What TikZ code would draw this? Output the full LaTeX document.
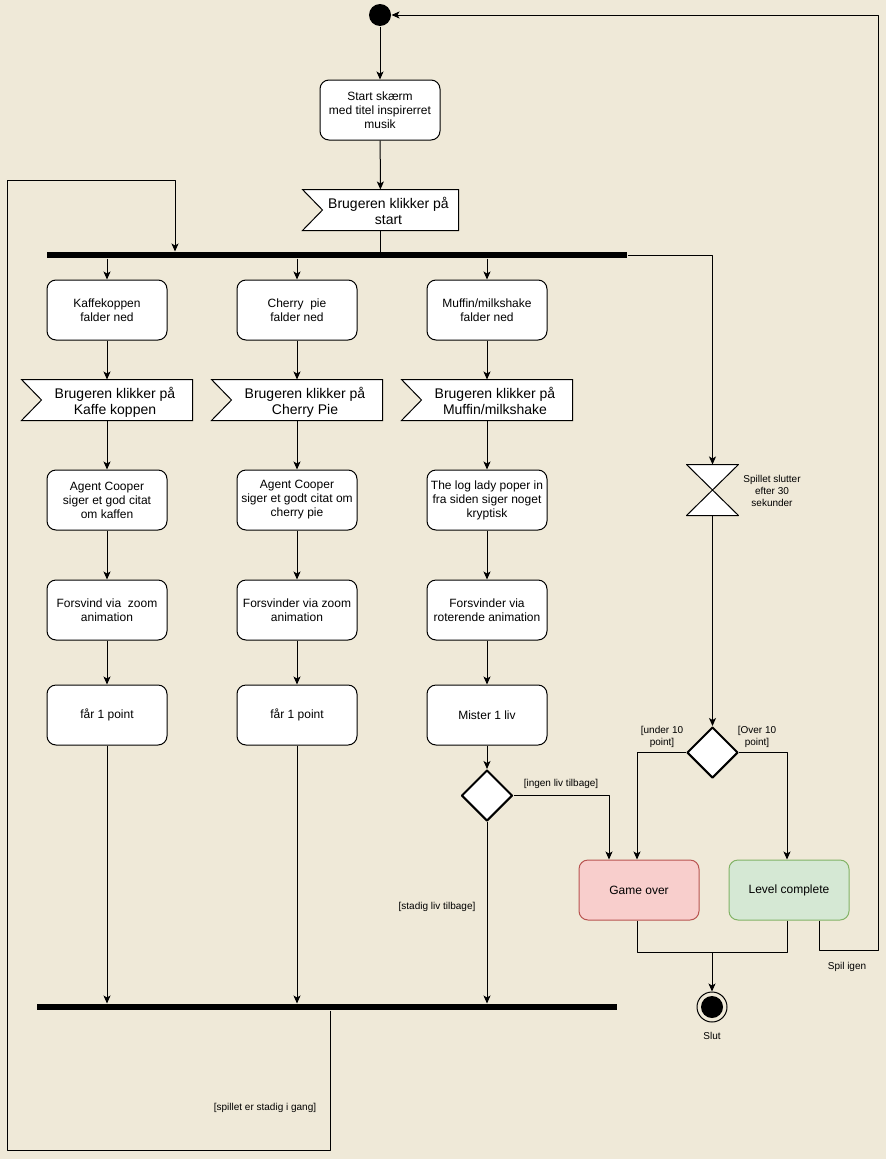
\documentclass[tikz,border=0pt]{standalone}
\usepackage{fontspec}
\setmainfont{Liberation Sans}
\usetikzlibrary{arrows.meta,shapes.geometric,backgrounds}
\definecolor{bgc}{RGB}{239,233,216}
\definecolor{gofill}{HTML}{F8CECC}
\definecolor{godraw}{HTML}{B85450}
\definecolor{lcfill}{HTML}{D5E8D4}
\definecolor{lcdraw}{HTML}{82B366}
\newcommand{\sigtxt}[1]{\hspace*{16pt}\raisebox{-3pt}[\height][\depth]{\begin{tabular}{@{}c@{}}#1\end{tabular}}}
\begin{document}
\begin{tikzpicture}[x=1pt,y=-1pt,line width=1pt,line join=round,
  >={Stealth[length=8pt,width=7pt,inset=2pt]},
  act/.style={draw,fill=white,rounded corners=9pt,minimum width=120pt,minimum height=60pt,align=center,inner sep=1pt,font=\fontsize{12}{14}\selectfont},
  sig/.style={minimum width=170pt,minimum height=40pt,inner sep=0pt,font=\fontsize{14}{16}\selectfont},
  sigshape/.style={draw=black,fill=white,line width=1pt,line join=miter},
  bar/.style={fill=black,draw=none,inner sep=0pt,minimum width=580pt,minimum height=6pt},
  dia/.style={diamond,draw,fill=white,line width=2pt,inner sep=0pt,minimum width=51pt,minimum height=51pt},
  lbl/.style={align=center,inner sep=1pt,font=\fontsize{10}{12}\selectfont}]
\useasboundingbox (0,0) rectangle (886,1159);
\begin{scope}[on background layer]
\fill[bgc] (0,0) rectangle (886,1159);
\end{scope}

% nodes
\node[circle,fill=black,minimum size=22pt,inner sep=0pt] (init) at (380,15) {};
\node[act] (start) at (380,110) {Start skærm\\med titel inspirerret\\musik};
\node[sig,minimum width=155pt] (s0) at (380.5,210) {\sigtxt{Brugeren klikker på\\start}};
\node[bar] (bar1) at (337,255) {};

\node[act] (a1) at (107,310) {Kaffekoppen\\falder ned};
\node[act] (a2) at (297,310) {Cherry~ pie\\falder ned};
\node[act] (a3) at (487,310) {Muffin/milkshake\\falder ned};

\node[sig] (b1) at (107,400) {\sigtxt{Brugeren klikker på\\Kaffe koppen}};
\node[sig] (b2) at (297,400) {\sigtxt{Brugeren klikker på\\Cherry Pie}};
\node[sig] (b3) at (487,400) {\sigtxt{Brugeren klikker på\\Muffin/milkshake}};

\begin{scope}[on background layer]
\foreach \s in {s0,b1,b2,b3}{
  \draw[sigshape] (\s.north west) -- (\s.north east) -- (\s.south east) -- (\s.south west) -- ([xshift=20pt]\s.west) -- cycle;
}
\end{scope}

\node[act] (c1) at (107,500) {Agent Cooper\\siger et god citat\\om kaffen};
\node[act] (c2) at (297,500) {Agent Cooper\\siger et godt citat om\\cherry pie};
\node[act] (c3) at (487,500) {The log lady poper in\\fra siden siger noget\\kryptisk};

\node[act] (d1) at (107,610) {Forsvind via~ zoom\\animation};
\node[act] (d2) at (297,610) {Forsvinder via zoom\\animation};
\node[act] (d3) at (487,610) {Forsvinder via\\roterende animation};

\node[act] (e1) at (107,715) {får 1 point};
\node[act] (e2) at (297,715) {får 1 point};
\node[act] (e3) at (487,715) {Mister 1 liv};

\node[dia] (dec1) at (487,795.5) {};
\node[bar] (bar2) at (327,1007) {};

\node[minimum width=51pt,minimum height=50pt,inner sep=0pt] (hg) at (712.5,490) {};
\filldraw[fill=white] (hg.north west) -- (hg.north east) -- (hg.south west) -- (hg.south east) -- cycle;

\node[dia] (dec2) at (712.5,752.5) {};
\node[act,fill=gofill,draw=godraw] (go) at (639,890) {Game over};
\node[act,fill=lcfill,draw=lcdraw] (lc) at (789,890) {Level complete};

\node[circle,draw,minimum size=30pt,inner sep=0pt] (fin) at (712,1007) {};
\node[circle,fill=black,minimum size=22pt,inner sep=0pt] (finin) at (fin) {};

% labels
\node[lbl] (l1) at (561,784) {[ingen liv tilbage]};
\node[lbl] (l2) at (437,907) {[stadig liv tilbage]};
\node[lbl] (l3) at (772,491) {Spillet slutter\\efter 30\\sekunder};
\node[lbl] (l4) at (662,737) {[under 10\\point]};
\node[lbl] (l5) at (757,737) {[Over 10\\point]};
\node[lbl] (l6) at (847,967) {Spil igen};
\node[lbl] (l7) at (712,1036) {Slut};
\node[lbl] (l8) at (265,1108) {[spillet er stadig i gang]};

% coordinates
\coordinate (lpA) at (330,1150);
\coordinate (lpB) at (7,180);
\coordinate (lpC) at (175,180);
\coordinate (rb) at (712.5,255);
\coordinate (mg) at (712,952);
\coordinate (sp1) at (878,950);

% connectors
\draw[->] (init) -- (start);
\draw[->] (start) -- (s0);
\draw (s0.south) -- (s0.south |- bar1.north);
\foreach \c in {1,2,3}{
  \draw[->] (bar1.south -| a\c.north) -- (a\c.north);
  \draw[->] (a\c) -- (b\c);
  \draw[->] (b\c) -- (c\c);
  \draw[->] (c\c) -- (d\c);
  \draw[->] (d\c) -- (e\c);
}
\draw[->] (e1) -- (e1 |- bar2.north);
\draw[->] (e2) -- (e2 |- bar2.north);
\draw[->] (e3) -- (dec1);
\draw[->] (dec1.south) -- (dec1.south |- bar2.north);
\draw[->] (dec1.east) -| ([xshift=-30pt]go.north);
\draw[->] (bar2.south -| lpA) -- (lpA) -- (lpA -| lpB) -- (lpB) -- (lpC) -- (lpC |- bar1.north);
\draw[->] (bar1.east) -- (rb) -- (hg.north);
\draw[->] (hg.south) -- (dec2.north);
\draw[->] (dec2.west) -| ([xshift=-2pt]go.north);
\draw[->] (dec2.east) -| ([xshift=-2pt]lc.north);
\draw ([xshift=-2pt]go.south) |- (mg);
\draw ([xshift=-2pt]lc.south) |- (mg);
\draw[->] (mg) -- (fin.north);
\draw[->] ([xshift=30pt]lc.south) |- (sp1) -- (sp1 |- init) -- (init.east);
\end{tikzpicture}
\end{document}
